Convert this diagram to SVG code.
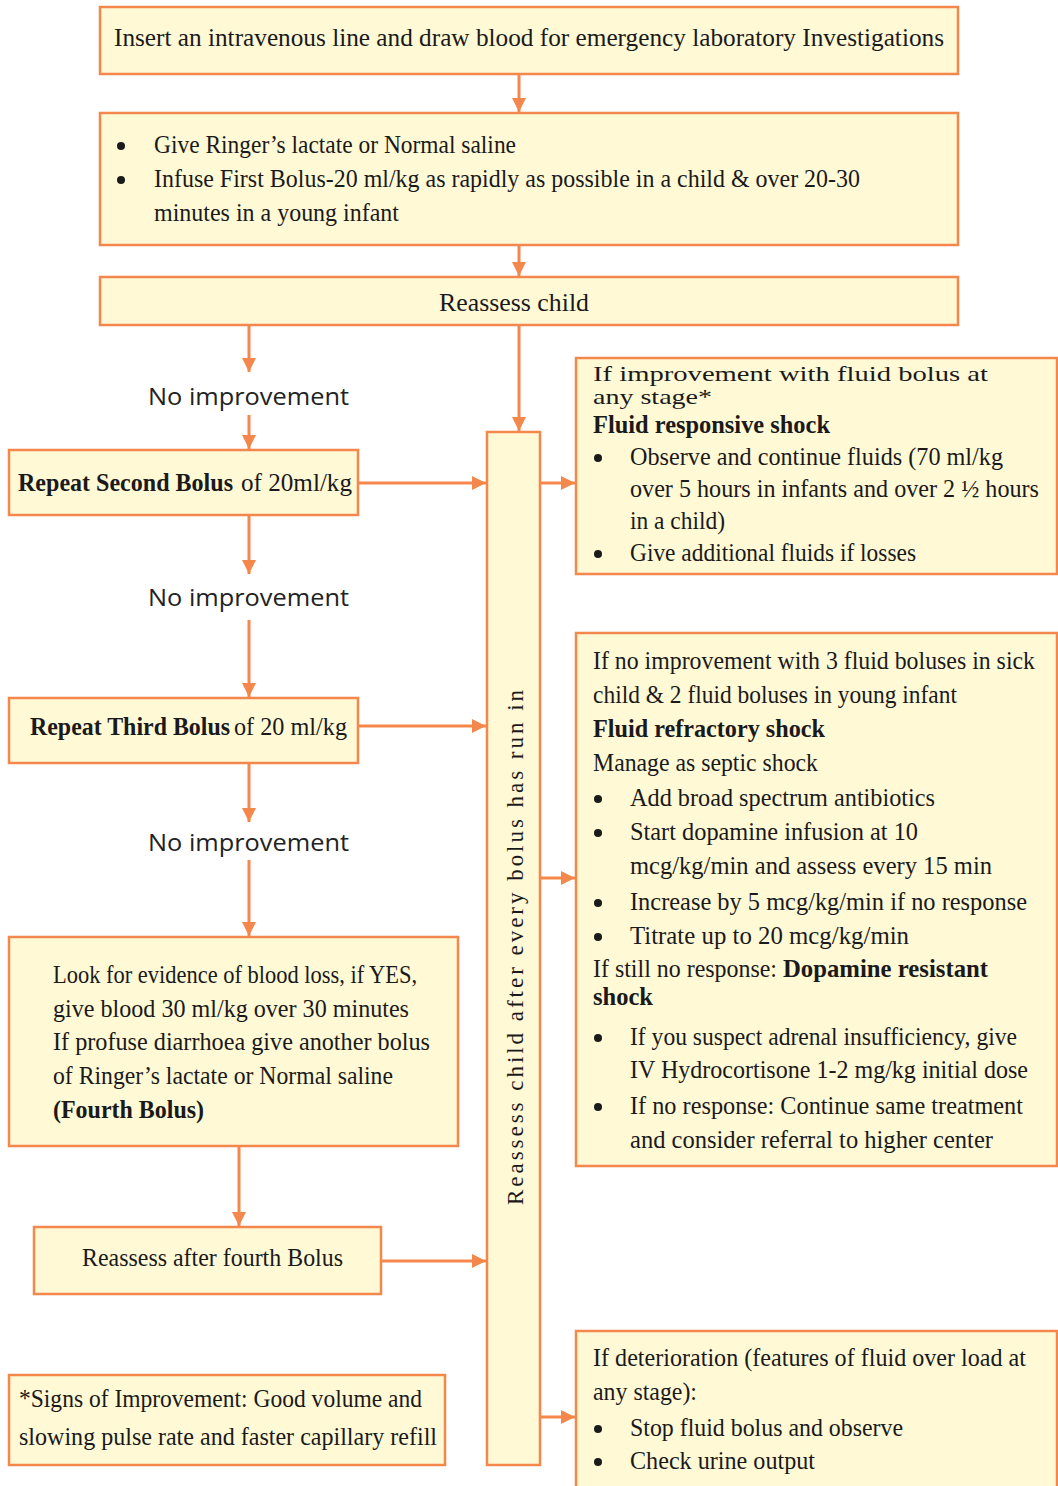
<svg xmlns="http://www.w3.org/2000/svg" width="1058" height="1486" viewBox="0 0 1058 1486">
<style>
.box{fill:#FFF9D6;stroke:#F4874B;stroke-width:2.5}
.t{font-family:"Liberation Serif",serif;font-size:25px;fill:#1a1a1a}
.b{font-weight:bold}
.s{font-family:"Open Sans","Liberation Sans",sans-serif;font-size:23px;fill:#222}
.c{fill:none;stroke:#F4874B;stroke-width:3}
.bul{fill:#1a1a1a}
</style>
<defs>
<marker id="ah" markerUnits="userSpaceOnUse" markerWidth="14" markerHeight="14" refX="14" refY="7" orient="auto">
<path d="M0,0 L14,7 L0,14 z" fill="#F4874B"/>
</marker>
</defs>

<g id="connectors">
<line class="c" x1="519" y1="74" x2="519" y2="112" marker-end="url(#ah)"/>
<line class="c" x1="519" y1="245" x2="519" y2="276" marker-end="url(#ah)"/>
<line class="c" x1="249" y1="325" x2="249" y2="372" marker-end="url(#ah)"/>
<line class="c" x1="249" y1="415" x2="249" y2="449" marker-end="url(#ah)"/>
<line class="c" x1="519" y1="325" x2="519" y2="431" marker-end="url(#ah)"/>
<line class="c" x1="358" y1="483" x2="486" y2="483" marker-end="url(#ah)"/>
<line class="c" x1="249" y1="515" x2="249" y2="574" marker-end="url(#ah)"/>
<line class="c" x1="249" y1="620" x2="249" y2="697" marker-end="url(#ah)"/>
<line class="c" x1="358" y1="726" x2="486" y2="726" marker-end="url(#ah)"/>
<line class="c" x1="249" y1="763" x2="249" y2="822" marker-end="url(#ah)"/>
<line class="c" x1="249" y1="860" x2="249" y2="936" marker-end="url(#ah)"/>
<line class="c" x1="239" y1="1146" x2="239" y2="1226" marker-end="url(#ah)"/>
<line class="c" x1="381" y1="1261" x2="486" y2="1261" marker-end="url(#ah)"/>
<line class="c" x1="540" y1="483" x2="575" y2="483" marker-end="url(#ah)"/>
<line class="c" x1="540" y1="878" x2="575" y2="878" marker-end="url(#ah)"/>
<line class="c" x1="540" y1="1417" x2="575" y2="1417" marker-end="url(#ah)"/>
</g>

<g id="labels">
<text class="s" x="148" y="405" textLength="201" lengthAdjust="spacingAndGlyphs">No improvement</text>
<text class="s" x="148" y="606" textLength="201" lengthAdjust="spacingAndGlyphs">No improvement</text>
<text class="s" x="148" y="851" textLength="201" lengthAdjust="spacingAndGlyphs">No improvement</text>
</g>

<g id="n1">
<rect class="box" x="100" y="7" width="858" height="67"/>
<text class="t" x="114" y="46" textLength="830" lengthAdjust="spacingAndGlyphs">Insert an intravenous line and draw blood for emergency laboratory Investigations</text>
</g>

<g id="n2">
<rect class="box" x="100" y="113" width="858" height="132"/>
<circle class="bul" cx="121" cy="146" r="4"/>
<circle class="bul" cx="121" cy="180" r="4"/>
<text class="t" x="154" y="153" textLength="362" lengthAdjust="spacingAndGlyphs">Give Ringer’s lactate or Normal saline</text>
<text class="t" x="154" y="187" textLength="706" lengthAdjust="spacingAndGlyphs">Infuse First Bolus-20 ml/kg as rapidly as possible in a child  &amp; over 20-30</text>
<text class="t" x="154" y="221" textLength="245" lengthAdjust="spacingAndGlyphs">minutes in a young infant</text>
</g>

<g id="n3">
<rect class="box" x="100" y="277" width="858" height="48"/>
<text class="t" x="439" y="311" textLength="150" lengthAdjust="spacingAndGlyphs">Reassess child</text>
</g>

<g id="n4">
<rect class="box" x="9" y="450" width="349" height="65"/>
<text class="t b" x="18" y="491" textLength="215" lengthAdjust="spacingAndGlyphs">Repeat Second Bolus</text>
<text class="t" x="241" y="491" textLength="111" lengthAdjust="spacingAndGlyphs">of 20ml/kg</text>
</g>

<g id="n5">
<rect class="box" x="9" y="698" width="349" height="65"/>
<text class="t b" x="30" y="735" textLength="200" lengthAdjust="spacingAndGlyphs">Repeat Third Bolus</text>
<text class="t" x="234" y="735" textLength="113" lengthAdjust="spacingAndGlyphs">of 20 ml/kg</text>
</g>

<g id="n6">
<rect class="box" x="9" y="937" width="449" height="209"/>
<text class="t" x="53" y="983" textLength="364" lengthAdjust="spacingAndGlyphs">Look for evidence of blood loss, if YES,</text>
<text class="t" x="53" y="1017" textLength="356" lengthAdjust="spacingAndGlyphs">give blood 30 ml/kg over 30 minutes</text>
<text class="t" x="53" y="1050" textLength="377" lengthAdjust="spacingAndGlyphs">If profuse diarrhoea give another bolus</text>
<text class="t" x="53" y="1084" textLength="340" lengthAdjust="spacingAndGlyphs">of Ringer’s lactate or Normal saline</text>
<text class="t b" x="53" y="1118" textLength="151" lengthAdjust="spacingAndGlyphs">(Fourth Bolus)</text>
</g>

<g id="n7">
<rect class="box" x="34" y="1227" width="347" height="67"/>
<text class="t" x="82" y="1266" textLength="261" lengthAdjust="spacingAndGlyphs">Reassess after fourth Bolus</text>
</g>

<g id="n8">
<rect class="box" x="9" y="1375" width="436" height="90"/>
<text class="t" x="19" y="1407" textLength="403" lengthAdjust="spacingAndGlyphs">*Signs of Improvement: Good volume and</text>
<text class="t" x="19" y="1445" textLength="418" lengthAdjust="spacingAndGlyphs">slowing pulse rate and faster capillary refill</text>
</g>

<g id="n9">
<rect class="box" x="487" y="432" width="53" height="1033"/>
<text class="t" x="0" y="0" transform="translate(523,1205) rotate(-90)" textLength="515" lengthAdjust="spacing" style="font-size:23px">Reassess child after every bolus has run in</text>
</g>

<g id="n10">
<rect class="box" x="576" y="358" width="481" height="216"/>
<text class="t" x="593" y="381" textLength="395" lengthAdjust="spacingAndGlyphs" style="font-size:22px">If improvement with fluid bolus at</text>
<text class="t" x="593" y="404" textLength="119" lengthAdjust="spacingAndGlyphs" style="font-size:22px">any stage*</text>
<text class="t b" x="593" y="433" textLength="237" lengthAdjust="spacingAndGlyphs">Fluid responsive shock</text>
<circle class="bul" cx="598" cy="458" r="4"/>
<text class="t" x="630" y="465" textLength="373" lengthAdjust="spacingAndGlyphs">Observe and continue fluids (70 ml/kg</text>
<text class="t" x="630" y="497" textLength="409" lengthAdjust="spacingAndGlyphs">over 5 hours in infants and over 2 ½ hours</text>
<text class="t" x="630" y="529" textLength="95" lengthAdjust="spacingAndGlyphs">in a child)</text>
<circle class="bul" cx="598" cy="554" r="4"/>
<text class="t" x="630" y="561" textLength="286" lengthAdjust="spacingAndGlyphs">Give additional fluids if losses</text>
</g>

<g id="n11">
<rect class="box" x="576" y="633" width="481" height="533"/>
<text class="t" x="593" y="669" textLength="442" lengthAdjust="spacingAndGlyphs">If no improvement with 3 fluid boluses in sick</text>
<text class="t" x="593" y="703" textLength="364" lengthAdjust="spacingAndGlyphs">child &amp; 2 fluid boluses in young infant</text>
<text class="t b" x="593" y="737" textLength="232" lengthAdjust="spacingAndGlyphs">Fluid refractory shock</text>
<text class="t" x="593" y="771" textLength="225" lengthAdjust="spacingAndGlyphs">Manage as septic shock</text>
<circle class="bul" cx="598" cy="799" r="4"/>
<text class="t" x="630" y="806" textLength="305" lengthAdjust="spacingAndGlyphs">Add broad spectrum antibiotics</text>
<circle class="bul" cx="598" cy="833" r="4"/>
<text class="t" x="630" y="840" textLength="288" lengthAdjust="spacingAndGlyphs">Start dopamine infusion at 10</text>
<text class="t" x="630" y="874" textLength="362" lengthAdjust="spacingAndGlyphs">mcg/kg/min and assess every 15 min</text>
<circle class="bul" cx="598" cy="903" r="4"/>
<text class="t" x="630" y="910" textLength="397" lengthAdjust="spacingAndGlyphs">Increase by 5 mcg/kg/min if no response</text>
<circle class="bul" cx="598" cy="937" r="4"/>
<text class="t" x="630" y="944" textLength="279" lengthAdjust="spacingAndGlyphs">Titrate up to 20 mcg/kg/min</text>
<text class="t" x="593" y="977" textLength="184" lengthAdjust="spacingAndGlyphs">If still no response:</text>
<text class="t b" x="783" y="977" textLength="205" lengthAdjust="spacingAndGlyphs">Dopamine resistant</text>
<text class="t b" x="593" y="1005" textLength="60" lengthAdjust="spacingAndGlyphs">shock</text>
<circle class="bul" cx="598" cy="1038" r="4"/>
<text class="t" x="630" y="1045" textLength="387" lengthAdjust="spacingAndGlyphs">If you suspect adrenal insufficiency, give</text>
<text class="t" x="630" y="1078" textLength="398" lengthAdjust="spacingAndGlyphs">IV Hydrocortisone 1-2 mg/kg initial dose</text>
<circle class="bul" cx="598" cy="1107" r="4"/>
<text class="t" x="630" y="1114" textLength="393" lengthAdjust="spacingAndGlyphs">If no response: Continue same treatment</text>
<text class="t" x="630" y="1148" textLength="363" lengthAdjust="spacingAndGlyphs">and consider referral to higher center</text>
</g>

<g id="n12">
<rect class="box" x="576" y="1331" width="481" height="160"/>
<text class="t" x="593" y="1366" textLength="433" lengthAdjust="spacingAndGlyphs">If deterioration (features of fluid over load at</text>
<text class="t" x="593" y="1400" textLength="104" lengthAdjust="spacingAndGlyphs">any stage):</text>
<circle class="bul" cx="598" cy="1429" r="4"/>
<text class="t" x="630" y="1436" textLength="273" lengthAdjust="spacingAndGlyphs">Stop fluid bolus and observe</text>
<circle class="bul" cx="598" cy="1462" r="4"/>
<text class="t" x="630" y="1469" textLength="185" lengthAdjust="spacingAndGlyphs">Check urine output</text>
</g>
</svg>
